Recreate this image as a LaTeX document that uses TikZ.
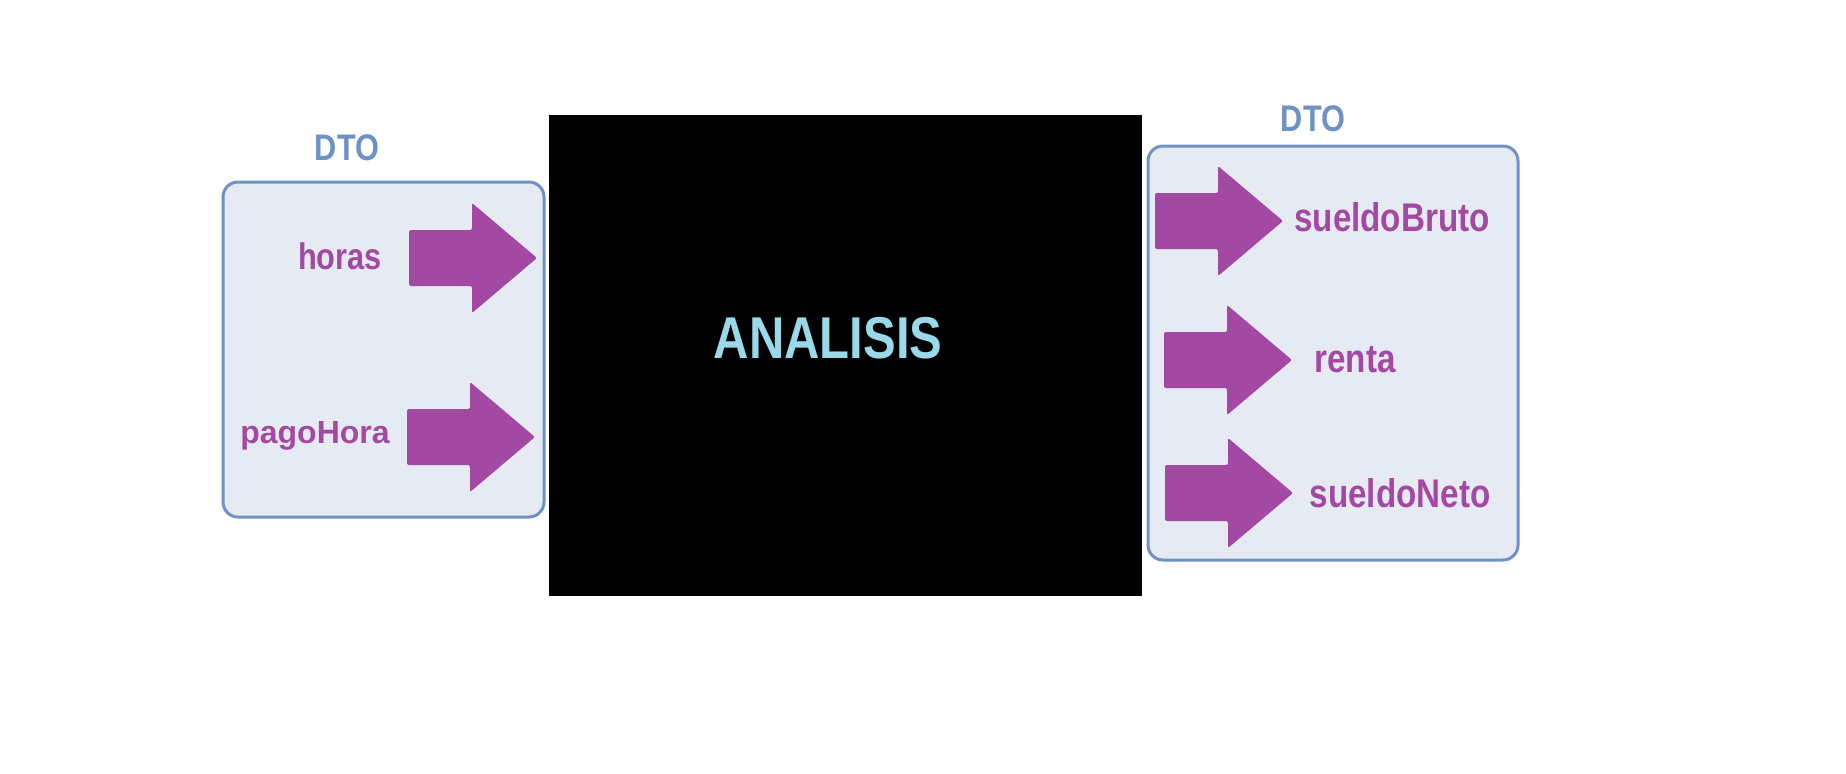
\documentclass[tikz,border=0pt]{standalone}
\usepackage{fontspec}
\setmainfont{Liberation Sans}
\newfontfamily\narrowfont[FakeStretch=0.83]{Liberation Sans}
\definecolor{dtoline}{HTML}{6E92C3}
\definecolor{dtofill}{HTML}{E6EBF3}
\definecolor{varcolor}{HTML}{A349A4}
\definecolor{titlecolor}{HTML}{99D9EA}
\tikzset{
  dto box/.style={draw=dtoline, line width=1.5pt, fill=dtofill, rounded corners=7.5pt, inner sep=0pt},
  dto title/.style={text=dtoline, anchor=base, font=\narrowfont\bfseries\fontsize{18.5}{22}\selectfont},
  var label/.style={text=varcolor, anchor=base, font=\narrowfont\bfseries\fontsize{20}{24}\selectfont},
  dto arrow/.style={fill=varcolor, rounded corners=1pt},
}
% block arrow: left end of shaft, middle height
\newcommand{\dtoarrow}[2]{\fill[dto arrow] (#1,#2) ++(0,-28) -- ++(63,0) -- ++(0,-27) -- ++(65,55) -- ++(-65,55) -- ++(0,-27) -- ++(-63,0) -- cycle;}

\begin{document}
\begin{tikzpicture}[x=0.5pt, y=-0.5pt]
\useasboundingbox[fill=white] (0,0) rectangle (1846,773);

% input DTO
\node [dto box, minimum width=160.5pt, minimum height=167.5pt] (indto) at (383.5,349.5) {};
\node [dto title] (intitle) at (347,160) {DTO};

% black box
\node [fill=black, inner sep=0pt, minimum width=296.5pt, minimum height=240.5pt] (analisis) at (845.5,355.5) {};
\node [text=titlecolor, anchor=base, font=\narrowfont\bfseries\fontsize{29.5}{34}\selectfont] (analisistext) at (828,358) {ANALISIS};

% output DTO
\node [dto box, minimum width=185pt, minimum height=207pt] (outdto) at (1333,353) {};
\node [dto title] (outtitle) at (1313,131) {DTO};

% arrows
\dtoarrow{409}{258}
\dtoarrow{407}{437}
\dtoarrow{1155}{221}
\dtoarrow{1164}{360}
\dtoarrow{1165}{493}

% variables
\node [var label, font=\narrowfont\bfseries\fontsize{18.5}{22}\selectfont] (horas) at (340,269) {horas};
\node [var label, font=\bfseries\fontsize{16}{19}\selectfont] (pagohora) at (315,443) {pagoHora};
\node [var label] (sueldobruto) at (1392,231) {sueldoBruto};
\node [var label] (renta) at (1355,372) {renta};
\node [var label] (sueldoneto) at (1400,507) {sueldoNeto};
\end{tikzpicture}
\end{document}
